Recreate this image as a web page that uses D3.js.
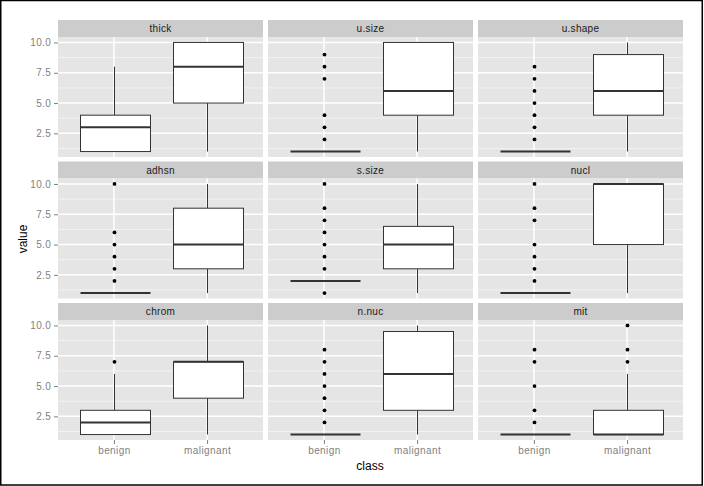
<!DOCTYPE html>
<html><head><meta charset="utf-8">
<script src="https://cdn.jsdelivr.net/npm/d3@7"></script>
<style>
body{margin:0;background:#fff;}
svg{display:block;font-family:"Liberation Sans",Arial,sans-serif;}
</style></head>
<body><svg id="chart" width="704" height="486"></svg>
<script>
const classes = ["benign", "malignant"];
const facets = ["thick","u.size","u.shape","adhsn","s.size","nucl","chrom","n.nuc","mit"];
const yTicks = [2.5, 5, 7.5, 10];
const yMinor = [1.25, 3.75, 6.25, 8.75];
// [lower whisker, q1, median, q3, upper whisker]
const benignStats = [
  [1,1,3,4,8],[1,1,1,1,1],[1,1,1,1,1],
  [1,1,1,1,1],[2,2,2,2,2],[1,1,1,1,1],
  [1,1,2,3,6],[1,1,1,1,1],[1,1,1,1,1]
];
const malignantStats = [
  [1,5,8,10,10],[1,4,6,10,10],[1,4,6,9,10],
  [1,3,5,8,10],[1,3,5,6.5,10],[1,5,10,10,10],
  [1,4,7,7,10],[1,3,6,9.5,10],[1,1,1,3,6]
];
const benignOutliers = [
  [],[2,3,4,7,8,9],[2,3,4,5,6,7,8],
  [2,3,4,5,6,10],[1,3,4,5,6,7,8,10],[2,3,4,5,7,8,10],
  [7],[2,3,4,5,6,7,8],[2,3,5,7,8]
];
const malignantOutliers = [
  [],[],[],
  [],[],[],
  [],[],[7,8,10]
];

const svg = d3.select("#chart");
svg.append("rect").attr("x",0.75).attr("y",0.5).attr("width",701.5).attr("height",484.5)
  .attr("fill","#fff").attr("stroke","#000").attr("stroke-width",1.5);

const colX = [58, 268, 478], panelW = 205;
const rowY = [20, 161.5, 303], stripH = 17, panelH = 120;

facets.forEach((name, i) => {
  const c = i % 3, r = Math.floor(i / 3);
  const x0 = colX[c], top = rowY[r], pTop = top + stripH, pBot = pTop + panelH;
  const x = d3.scalePoint().domain(classes).range([x0, x0 + panelW]).padding(0.6);
  const y = d3.scaleLinear().domain([1 - 0.45, 10 + 0.45]).range([pBot, pTop]);
  const g = svg.append("g");
  // strip
  g.append("rect").attr("x",x0).attr("y",top).attr("width",panelW).attr("height",stripH).attr("fill","#CCCCCC");
  g.append("text").attr("x",x0+panelW/2).attr("y",top+stripH/2).attr("dy","0.35em")
    .attr("text-anchor","middle").attr("font-size","10px").attr("letter-spacing","0.3px")
    .attr("fill","#1A1A1A").text(name);
  // panel
  g.append("rect").attr("x",x0).attr("y",pTop).attr("width",panelW).attr("height",panelH).attr("fill","#E5E5E5");
  g.selectAll(".minor").data(yMinor).join("line")
    .attr("x1",x0).attr("x2",x0+panelW).attr("y1",d=>y(d)).attr("y2",d=>y(d))
    .attr("stroke","#F2F2F2").attr("stroke-width",1);
  g.selectAll(".major").data(yTicks).join("line")
    .attr("x1",x0).attr("x2",x0+panelW).attr("y1",d=>y(d)).attr("y2",d=>y(d))
    .attr("stroke","#fff").attr("stroke-width",1.5);
  g.selectAll(".vmajor").data(classes).join("line")
    .attr("x1",d=>x(d)).attr("x2",d=>x(d)).attr("y1",pTop).attr("y2",pBot)
    .attr("stroke","#fff").attr("stroke-width",1.5);
  const bw = x.step() * 0.75;
  const stats = [benignStats[i], malignantStats[i]];
  const outs = [benignOutliers[i], malignantOutliers[i]];
  classes.forEach((cl, k) => {
    const s = stats[k], cx = Math.round(x(cl)) + 0.5;
    g.append("line").attr("x1",cx).attr("x2",cx).attr("y1",y(s[0])).attr("y2",y(s[1]))
      .attr("stroke","#333").attr("stroke-width",1);
    g.append("line").attr("x1",cx).attr("x2",cx).attr("y1",y(s[3])).attr("y2",y(s[4]))
      .attr("stroke","#333").attr("stroke-width",1);
    const bx = Math.round(cx - bw/2) + 0.5;
    g.append("rect").attr("x",bx).attr("y",y(s[3])).attr("width",Math.round(bw)).attr("height",y(s[1])-y(s[3]))
      .attr("fill","#fff").attr("stroke","#333").attr("stroke-width",1);
    g.append("line").attr("x1",bx).attr("x2",bx+Math.round(bw)).attr("y1",y(s[2])).attr("y2",y(s[2]))
      .attr("stroke","#333").attr("stroke-width",2);
    g.selectAll(null).data(outs[k]).join("circle")
      .attr("cx",cx).attr("cy",d=>y(d)).attr("r",1.9).attr("fill","#000");
  });
  if (c === 0) {
    const ax = g.append("g").attr("transform",`translate(${x0},0)`)
      .call(d3.axisLeft(y).tickValues(yTicks).tickFormat(d3.format(".1f")).tickSize(4).tickPadding(3));
    ax.select(".domain").remove();
    ax.selectAll(".tick line").attr("stroke","#7F7F7F");
    ax.selectAll(".tick text").attr("fill","#7F7F7F").attr("font-size","10px")
      .attr("letter-spacing","0.3px").attr("font-family","Liberation Sans, Arial, sans-serif");
  }
  if (r === 2) {
    const ax = g.append("g").attr("transform",`translate(0,${pBot})`)
      .call(d3.axisBottom(x).tickSize(4).tickPadding(3));
    ax.select(".domain").remove();
    ax.selectAll(".tick line").attr("stroke","#7F7F7F");
    ax.selectAll(".tick text").attr("fill","#7F7F7F").attr("font-size","10px")
      .attr("letter-spacing","0.4px").attr("font-family","Liberation Sans, Arial, sans-serif");
  }
});

svg.append("text").attr("x",370).attr("y",470).attr("text-anchor","middle")
  .attr("font-size","12px").attr("fill","#000").text("class");
svg.append("text").attr("transform","translate(27,239) rotate(-90)").attr("text-anchor","middle")
  .attr("font-size","12px").attr("fill","#000").text("value");
</script></body></html>
